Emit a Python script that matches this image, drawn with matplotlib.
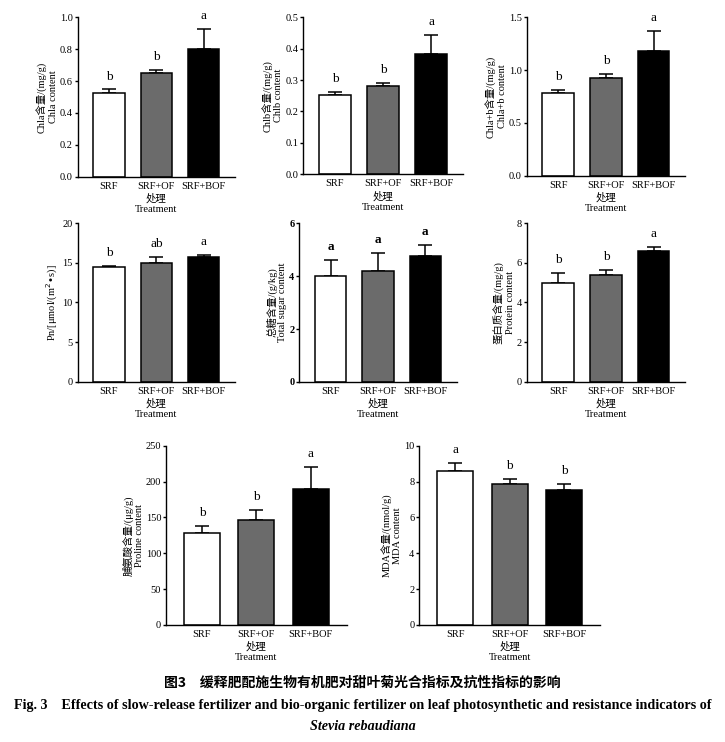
import numpy as np
import matplotlib
matplotlib.use("Agg")
import matplotlib.pyplot as plt

plt.rcParams['font.family'] = ['Liberation Serif', 'Noto Sans CJK SC', 'DejaVu Sans']
plt.rcParams['axes.unicode_minus'] = False

# ======================
# DATA
# ======================
treatments = ["SRF", "SRF+OF", "SRF+BOF"]
bar_colors = ["white", "#6b6b6b", "black"]

chla = [0.527, 0.648, 0.799]
chla_err = [0.020, 0.020, 0.126]
chla_sig = ["b", "b", "a"]

chlb = [0.251, 0.281, 0.382]
chlb_err = [0.012, 0.011, 0.061]
chlb_sig = ["b", "b", "a"]

chlab = [0.78, 0.928, 1.184]
chlab_err = [0.03, 0.035, 0.19]
chlab_sig = ["b", "b", "a"]

pn = [14.45, 15.0, 15.7]
pn_err = [0.12, 0.75, 0.25]
pn_sig = ["b", "ab", "a"]

sugar = [4.0, 4.21, 4.75]
sugar_err = [0.61, 0.66, 0.44]
sugar_sig = ["a", "a", "a"]

protein = [4.98, 5.40, 6.62]
protein_err = [0.50, 0.26, 0.20]
protein_sig = ["b", "b", "a"]

proline = [128, 146.5, 189]
proline_err = [10.5, 14, 32]
proline_sig = ["b", "b", "a"]

mda = [8.6, 7.84, 7.54]
mda_err = [0.42, 0.30, 0.34]
mda_sig = ["a", "b", "b"]

# ======================
# PANELS
# ======================
panels = [
    # values, errors, letters, ylabel, yticks, tick format, rect (l, b, w, h), bold
    (chla, chla_err, chla_sig, "Chla含量/(mg/g)\nChla content",
     np.arange(0, 1.01, 0.2), "{:.1f}", [0.1072, 0.7619, 0.2170, 0.2148], False),
    (chlb, chlb_err, chlb_sig, "Chlb含量/(mg/g)\nChlb content",
     np.arange(0, 0.51, 0.1), "{:.1f}", [0.4183, 0.7651, 0.2199, 0.2116], False),
    (chlab, chlab_err, chlab_sig, "Chla+b含量/(mg/g)\nChla+b content",
     np.arange(0, 1.51, 0.5), "{:.1f}", [0.7265, 0.7632, 0.2183, 0.2135], False),
    (pn, pn_err, pn_sig, "Pn/[μmol/(m$^2$•s)]",
     np.arange(0, 21, 5), "{:.0f}", [0.1072, 0.4856, 0.2170, 0.2135], False),
    (sugar, sugar_err, sugar_sig, "总糖含量/(g/kg)\nTotal sugar content",
     np.arange(0, 6.1, 2), "{:.0f}", [0.4128, 0.4852, 0.2171, 0.2139], True),
    (protein, protein_err, protein_sig, "蛋白质含量/(mg/g)\nProtein content",
     np.arange(0, 8.1, 2), "{:.0f}", [0.7265, 0.4856, 0.2183, 0.2135], False),
    (proline, proline_err, proline_sig, "脯氨酸含量/(μg/g)\nProline content",
     np.arange(0, 251, 50), "{:.0f}", [0.2290, 0.1577, 0.2492, 0.2416], False),
    (mda, mda_err, mda_sig, "MDA含量/(nmol/g)\nMDA content",
     np.arange(0, 10.1, 2), "{:.0f}", [0.5783, 0.1577, 0.2492, 0.2416], False),
]

fig = plt.figure(figsize=(7.25, 7.42), dpi=100)

x = np.arange(len(treatments))
for vals, errs, sig, ylab, yt, fmt, rect, bold in panels:
    ax = fig.add_axes(rect)
    ax.bar(x, vals, width=0.66, color=bar_colors, edgecolor="black",
           linewidth=1.1, zorder=2)
    ax.errorbar(x, vals, yerr=[np.zeros(3), errs], fmt="none", ecolor="black",
                elinewidth=1.1, capsize=5, capthick=1.1, zorder=1)
    for xi, v, e, s in zip(x, vals, errs, sig):
        ax.annotate(s, (xi, v + e), xytext=(0, 5), textcoords="offset points",
                    ha="center", va="bottom", fontsize=9.5,
                    fontweight="bold" if bold else "normal")
    ax.set_xlim(-0.66, 2.66)
    ax.set_ylim(0, yt[-1])
    ax.set_yticks(yt)
    ax.set_yticklabels([fmt.format(t) for t in yt], fontsize=7.5,
                       fontweight="bold" if bold else "normal")
    ax.set_xticks(x)
    ax.set_xticklabels(treatments, fontsize=7.5)
    ax.tick_params(axis="x", direction="in", length=4, width=1, pad=3.5)
    ax.tick_params(axis="y", direction="out", length=2.5, width=1, pad=1)
    ax.spines["top"].set_visible(False)
    ax.spines["right"].set_visible(False)
    ax.spines["left"].set_linewidth(1.0)
    ax.spines["bottom"].set_linewidth(1.0)
    ax.set_ylabel(ylab, fontsize=7.5, labelpad=1.5, linespacing=1.1)
    ax.set_xlabel("处理\nTreatment", fontsize=7.5, labelpad=2, linespacing=1.2)

# ======================
# CAPTION
# ======================
fig.text(0.5, 1 - 683 / 742, "图3　缓释肥配施生物有机肥对甜叶菊光合指标及抗性指标的影响",
         ha="center", va="center", fontsize=10, fontweight="bold",
         family=["Noto Sans CJK SC", "DejaVu Sans"])
fig.text(0.5, 1 - 705 / 742,
         "Fig. 3    Effects of slow-release fertilizer and bio-organic fertilizer on leaf "
         "photosynthetic and resistance indicators of",
         ha="center", va="center", fontsize=10.2, fontweight="bold")
fig.text(0.5, 1 - 726 / 742, "Stevia rebaudiana", ha="center", va="center",
         fontsize=10.2, fontweight="bold", fontstyle="italic")

plt.savefig("out.png", dpi=100)
